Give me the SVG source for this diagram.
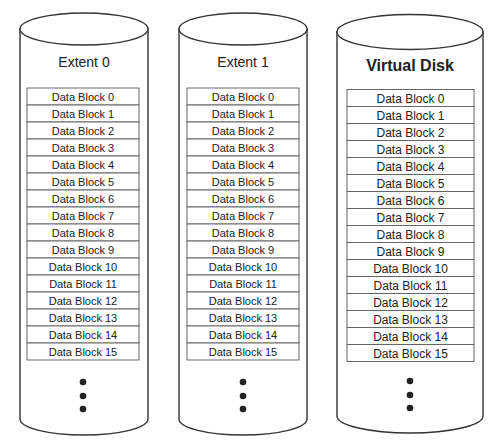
<svg xmlns="http://www.w3.org/2000/svg" width="503" height="441" viewBox="0 0 503 441">
<style>
.cyl{fill:#fff;stroke:#333;stroke-width:1.4}
.row{fill:#fff;stroke:#666;stroke-width:1}
.t{font-family:"Liberation Sans",Arial,sans-serif;font-size:11px;fill:#222;text-anchor:middle}
.t3{font-family:"Liberation Sans",Arial,sans-serif;font-size:12px;fill:#222;text-anchor:middle}
.title{font-family:"Liberation Sans",Arial,sans-serif;font-size:14px;fill:#222;text-anchor:middle}
.titleb{font-family:"Liberation Sans",Arial,sans-serif;font-size:16px;font-weight:bold;fill:#222;text-anchor:middle}
.dot{fill:#222}
</style>
<rect width="503" height="441" fill="#fff"/>
<g id="extent0">
<path class="cyl" d="M20,29 V419 A64,16 0 0 0 148,419 V29 Z"/>
<ellipse class="cyl" cx="84" cy="29" rx="64" ry="16"/>
<text class="title" x="84" y="67">Extent 0</text>
<g>
<rect class="row" x="27" y="88" width="112" height="17"/><text class="t" x="83" y="100.5">Data Block 0</text>
<rect class="row" x="27" y="105" width="112" height="17"/><text class="t" x="83" y="117.5">Data Block 1</text>
<rect class="row" x="27" y="122" width="112" height="17"/><text class="t" x="83" y="134.5">Data Block 2</text>
<rect class="row" x="27" y="139" width="112" height="17"/><text class="t" x="83" y="151.5">Data Block 3</text>
<rect class="row" x="27" y="156" width="112" height="17"/><text class="t" x="83" y="168.5">Data Block 4</text>
<rect class="row" x="27" y="173" width="112" height="17"/><text class="t" x="83" y="185.5">Data Block 5</text>
<rect class="row" x="27" y="190" width="112" height="17"/><text class="t" x="83" y="202.5">Data Block 6</text>
<rect class="row" x="27" y="207" width="112" height="17"/><text class="t" x="83" y="219.5">Data Block 7</text>
<rect class="row" x="27" y="224" width="112" height="17"/><text class="t" x="83" y="236.5">Data Block 8</text>
<rect class="row" x="27" y="241" width="112" height="17"/><text class="t" x="83" y="253.5">Data Block 9</text>
<rect class="row" x="27" y="258" width="112" height="17"/><text class="t" x="83" y="270.5">Data Block 10</text>
<rect class="row" x="27" y="275" width="112" height="17"/><text class="t" x="83" y="287.5">Data Block 11</text>
<rect class="row" x="27" y="292" width="112" height="17"/><text class="t" x="83" y="304.5">Data Block 12</text>
<rect class="row" x="27" y="309" width="112" height="17"/><text class="t" x="83" y="321.5">Data Block 13</text>
<rect class="row" x="27" y="326" width="112" height="17"/><text class="t" x="83" y="338.5">Data Block 14</text>
<rect class="row" x="27" y="343" width="112" height="17"/><text class="t" x="83" y="355.5">Data Block 15</text>
</g>
<circle class="dot" cx="83" cy="382" r="3.3"/>
<circle class="dot" cx="83" cy="396" r="3.3"/>
<circle class="dot" cx="83" cy="409" r="3.3"/>
</g>
<g id="extent1">
<path class="cyl" d="M179,29 V419 A64,16 0 0 0 307,419 V29 Z"/>
<ellipse class="cyl" cx="243" cy="29" rx="64" ry="16"/>
<text class="title" x="243" y="67">Extent 1</text>
<g>
<rect class="row" x="187" y="88" width="112" height="17"/><text class="t" x="243" y="100.5">Data Block 0</text>
<rect class="row" x="187" y="105" width="112" height="17"/><text class="t" x="243" y="117.5">Data Block 1</text>
<rect class="row" x="187" y="122" width="112" height="17"/><text class="t" x="243" y="134.5">Data Block 2</text>
<rect class="row" x="187" y="139" width="112" height="17"/><text class="t" x="243" y="151.5">Data Block 3</text>
<rect class="row" x="187" y="156" width="112" height="17"/><text class="t" x="243" y="168.5">Data Block 4</text>
<rect class="row" x="187" y="173" width="112" height="17"/><text class="t" x="243" y="185.5">Data Block 5</text>
<rect class="row" x="187" y="190" width="112" height="17"/><text class="t" x="243" y="202.5">Data Block 6</text>
<rect class="row" x="187" y="207" width="112" height="17"/><text class="t" x="243" y="219.5">Data Block 7</text>
<rect class="row" x="187" y="224" width="112" height="17"/><text class="t" x="243" y="236.5">Data Block 8</text>
<rect class="row" x="187" y="241" width="112" height="17"/><text class="t" x="243" y="253.5">Data Block 9</text>
<rect class="row" x="187" y="258" width="112" height="17"/><text class="t" x="243" y="270.5">Data Block 10</text>
<rect class="row" x="187" y="275" width="112" height="17"/><text class="t" x="243" y="287.5">Data Block 11</text>
<rect class="row" x="187" y="292" width="112" height="17"/><text class="t" x="243" y="304.5">Data Block 12</text>
<rect class="row" x="187" y="309" width="112" height="17"/><text class="t" x="243" y="321.5">Data Block 13</text>
<rect class="row" x="187" y="326" width="112" height="17"/><text class="t" x="243" y="338.5">Data Block 14</text>
<rect class="row" x="187" y="343" width="112" height="17"/><text class="t" x="243" y="355.5">Data Block 15</text>
</g>
<circle class="dot" cx="243" cy="382" r="3.3"/>
<circle class="dot" cx="243" cy="396" r="3.3"/>
<circle class="dot" cx="243" cy="409" r="3.3"/>
</g>
<g id="virtual-disk">
<path class="cyl" d="M337,32 V416 A73,17 0 0 0 483,416 V32 Z"/>
<ellipse class="cyl" cx="410" cy="32" rx="73" ry="17.5"/>
<text class="titleb" x="410" y="71">Virtual Disk</text>
<g>
<rect class="row" x="347" y="89.5" width="127" height="17"/><text class="t3" x="410.5" y="102.5">Data Block 0</text>
<rect class="row" x="347" y="106.5" width="127" height="17"/><text class="t3" x="410.5" y="119.5">Data Block 1</text>
<rect class="row" x="347" y="123.5" width="127" height="17"/><text class="t3" x="410.5" y="136.5">Data Block 2</text>
<rect class="row" x="347" y="140.5" width="127" height="17"/><text class="t3" x="410.5" y="153.5">Data Block 3</text>
<rect class="row" x="347" y="157.5" width="127" height="17"/><text class="t3" x="410.5" y="170.5">Data Block 4</text>
<rect class="row" x="347" y="174.5" width="127" height="17"/><text class="t3" x="410.5" y="187.5">Data Block 5</text>
<rect class="row" x="347" y="191.5" width="127" height="17"/><text class="t3" x="410.5" y="204.5">Data Block 6</text>
<rect class="row" x="347" y="208.5" width="127" height="17"/><text class="t3" x="410.5" y="221.5">Data Block 7</text>
<rect class="row" x="347" y="225.5" width="127" height="17"/><text class="t3" x="410.5" y="238.5">Data Block 8</text>
<rect class="row" x="347" y="242.5" width="127" height="17"/><text class="t3" x="410.5" y="255.5">Data Block 9</text>
<rect class="row" x="347" y="259.5" width="127" height="17"/><text class="t3" x="410.5" y="272.5">Data Block 10</text>
<rect class="row" x="347" y="276.5" width="127" height="17"/><text class="t3" x="410.5" y="289.5">Data Block 11</text>
<rect class="row" x="347" y="293.5" width="127" height="17"/><text class="t3" x="410.5" y="306.5">Data Block 12</text>
<rect class="row" x="347" y="310.5" width="127" height="17"/><text class="t3" x="410.5" y="323.5">Data Block 13</text>
<rect class="row" x="347" y="327.5" width="127" height="17"/><text class="t3" x="410.5" y="340.5">Data Block 14</text>
<rect class="row" x="347" y="344.5" width="127" height="17"/><text class="t3" x="410.5" y="357.5">Data Block 15</text>
</g>
<circle class="dot" cx="410" cy="381" r="3.3"/>
<circle class="dot" cx="410" cy="395" r="3.3"/>
<circle class="dot" cx="410" cy="408" r="3.3"/>
</g>
<g id="connectors"/>
</svg>
